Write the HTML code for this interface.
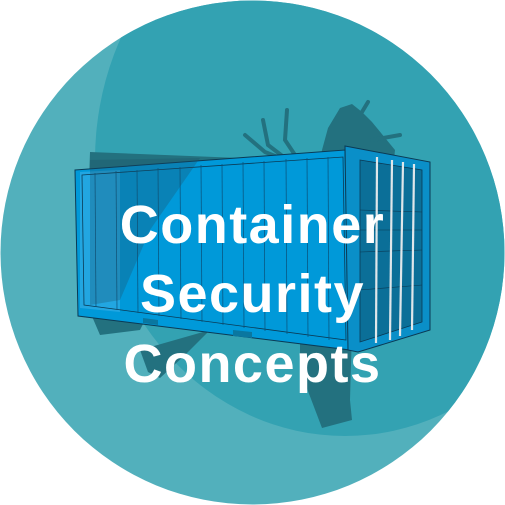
<!DOCTYPE html>
<html><head><style>
html,body{margin:0;padding:0;background:#fff;}
svg{display:block;}
text{font-family:"Liberation Sans",sans-serif;font-weight:bold;fill:#fff;}
</style></head><body>
<svg width="505" height="505" viewBox="0 0 505 505" xmlns="http://www.w3.org/2000/svg">
<defs><clipPath id="c"><circle cx="252.5" cy="252.5" r="252"/></clipPath></defs>
<circle cx="252.5" cy="252.5" r="252" fill="#52b0bc"/>
<g clip-path="url(#c)">
<ellipse cx="345" cy="160" rx="250" ry="276" fill="#33a2b2"/>
<!-- bug shadow -->
<g fill="#23717f">
<path d="M328,128 L340,108 L352,104 L362,112 L372,122 L395,150 L390,200 L370,260 L352,330 L350,400 L352,420 L322,428 L300,370 L300,300 L315,200 L322,150 Z"/>
<path d="M90,152 L240,158 L160,290 L140,330 L100,335 L85,300 Z"/>
<path d="M140,350 L210,330 L185,355 L160,378 L148,372 Z"/>
</g>
<g stroke="#23717f" stroke-width="4" fill="none" stroke-linecap="round">
<path d="M245,135 L265,152 L280,158"/>
<path d="M263,120 L268,145 L285,158"/>
<path d="M287,110 L285,140 L295,155"/>
<path d="M362,112 L368,102"/>
<path d="M372,140 L400,135"/>
</g>
<!-- container long side -->
<polygon points="75,170 345,150 350,350 78,316" fill="#0099d9" stroke="#0a3a55" stroke-width="1"/>
<polygon points="80,172 120,170 120,312 80,308" fill="#2aa9e2" opacity="0.8"/>
<polygon points="82,175 343,157 346,340 84,305" fill="none" stroke="#0a3a55" stroke-width="0.8"/>
<g stroke="#0a4f78" stroke-width="0.7">
<line x1="95" y1="173" x2="96" y2="307"/>
<line x1="116" y1="171" x2="117" y2="310"/>
<line x1="137" y1="170" x2="138" y2="313"/>
<line x1="158" y1="168" x2="159" y2="316"/>
<line x1="180" y1="167" x2="181" y2="319"/>
<line x1="201" y1="165" x2="202" y2="322"/>
<line x1="222" y1="164" x2="223" y2="325"/>
<line x1="243" y1="162" x2="244" y2="328"/>
<line x1="264" y1="161" x2="265" y2="331"/>
<line x1="286" y1="159" x2="287" y2="334"/>
<line x1="307" y1="158" x2="308" y2="337"/>
<line x1="328" y1="157" x2="329" y2="340"/>
</g>
<polygon points="143,318 158,320 158,325 143,323" fill="#0a77a0"/>
<polygon points="233,330 252,332 252,338 233,336" fill="#0a77a0"/>
<!-- translucent shadow over container -->
<path d="M90,160 L200,158 L150,230 L120,300 L90,305 Z" fill="#1d4f66" opacity="0.3"/>
<!-- door end -->
<polygon points="345,146 430,162 430,330 358,352 348,350" fill="#0a8fc8" stroke="#0a3a55" stroke-width="1"/>
<polygon points="360,160 422,170 422,322 360,342" fill="#0b6f98" stroke="#0a3a55" stroke-width="0.8"/>
<g stroke="#0a3a55" stroke-width="0.6">
<line x1="360" y1="210" x2="422" y2="212"/>
<line x1="360" y1="230" x2="422" y2="230"/>
<line x1="360" y1="252" x2="422" y2="250"/>
<line x1="360" y1="290" x2="422" y2="285"/>
</g>
<g stroke="#dfe6ea" stroke-width="2.2">
<line x1="377" y1="157" x2="376" y2="343"/>
<line x1="392" y1="160" x2="390" y2="340"/>
<line x1="403" y1="162" x2="400" y2="336"/>
<line x1="414" y1="164" x2="412" y2="330"/>
</g>
</g>
<text x="252.5" y="243" font-size="54" text-anchor="middle" letter-spacing="1.5">Container</text>
<text x="252.5" y="312" font-size="54" text-anchor="middle" letter-spacing="1.5">Security</text>
<text x="252.5" y="382" font-size="54" text-anchor="middle" letter-spacing="1.5">Concepts</text>
</svg>
</body></html>
